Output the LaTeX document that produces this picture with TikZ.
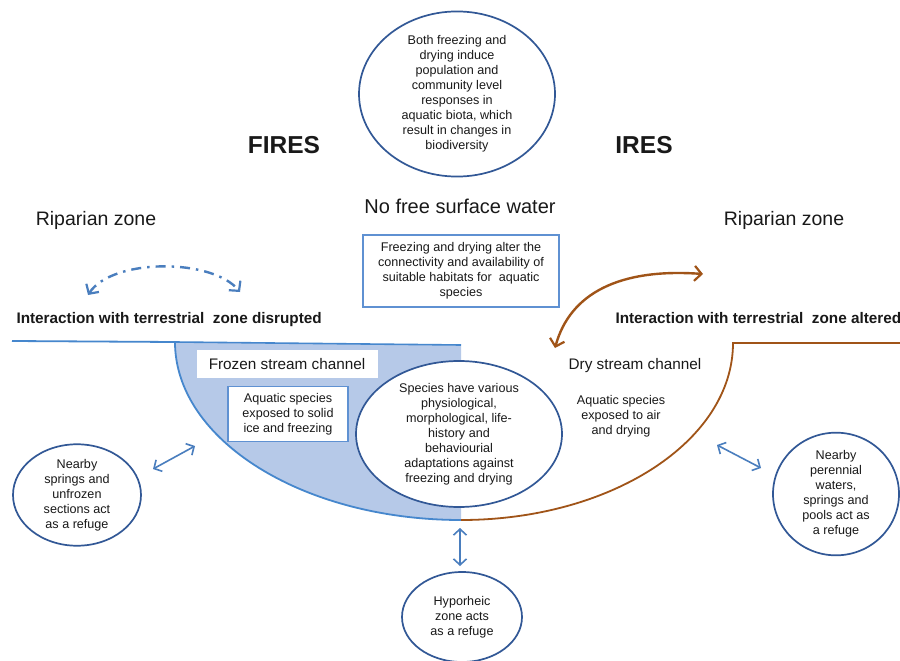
\documentclass[tikz,border=0pt]{standalone}
\usepackage{fontspec}
\setmainfont{Liberation Sans}
\usetikzlibrary{shapes.geometric,arrows.meta}
\definecolor{ellblue}{RGB}{50,88,150}
\definecolor{lineblue}{RGB}{70,135,205}
\definecolor{boxblue}{RGB}{95,145,210}
\definecolor{arrblue}{RGB}{74,126,190}
\definecolor{icefill}{RGB}{182,201,232}
\definecolor{rust}{RGB}{160,84,24}
\definecolor{txt}{RGB}{25,25,25}
\tikzset{
  barb/.tip={Straight Barb[length=6pt,width=13pt,line width=1.6pt]},
  bigbarb/.tip={Straight Barb[length=7pt,width=15pt,line width=2.2pt]},
}
\begin{document}
\begin{tikzpicture}[x=1pt,y=-1pt,
  every node/.style={text=txt},
  small/.style={font=\fontsize{12.6}{15}\selectfont, align=center},
  ell/.style={ellipse, draw=ellblue, line width=1.7pt, fill=white, inner sep=0pt, small},
  bluebox/.style={rectangle, draw=boxblue, line width=1.5pt, fill=white, inner sep=0pt, small},
  head/.style={font=\bfseries\fontsize{24.5}{29}\selectfont, anchor=base},
  mid/.style={font=\fontsize{20}{24}\selectfont, anchor=base},
  inter/.style={font=\bfseries\fontsize{15.3}{18}\selectfont, anchor=base west},
  chan/.style={font=\fontsize{15.3}{18}\selectfont, anchor=base},
  dbl/.style={draw=arrblue, line width=1.6pt, barb-barb},
  ]
\clip (0,0) rectangle (900,661);
\fill[white] (0,0) rectangle (900,661);

% frozen channel
\fill[icefill] (175,342) -- (461,345) -- (461,520) .. controls (303,520) and (175,440) .. (175,342) -- cycle;
\draw[lineblue, line width=1.8pt] (12,341) -- (175,342) .. controls (175,440) and (303,520) .. (461,520);
\draw[lineblue, line width=1.6pt] (175,342) -- (461,345);
% dry channel
\draw[rust, line width=1.8pt] (461,520) .. controls (611,520) and (733,441) .. (733,343) -- (900,343);

% titles
\node[head] (fires) at (284,153) {FIRES};
\node[head] (ires) at (644,153) {IRES};
\node[mid] (nofree) at (460,213) {No free surface water};
\node[mid, font=\fontsize{19.5}{24}\selectfont] (ripl) at (96,225) {Riparian zone};
\node[mid, font=\fontsize{19.5}{24}\selectfont] (ripr) at (784,225) {Riparian zone};

% top ellipse
\node[ell, minimum width=196pt, minimum height=164pt] (top) at (457,94)
  {Both freezing and\\drying induce\\population and\\community level\\responses in\\aquatic biota, which\\result in changes in\\biodiversity};

% connectivity box
\node[bluebox, minimum width=196pt, minimum height=72pt] (conn) at (461,271)
  {Freezing and drying alter the\\connectivity and availability of\\suitable habitats for\ \ aquatic\\species};

% interaction texts
\node[inter] (intl) at (13,323) {Interaction with terrestrial\ \ zone disrupted};
\node[inter] (intr) at (612,323) {Interaction with terrestrial\ \ zone altered};

% arrows of interaction
\coordinate (da) at (88,295);
\coordinate (db) at (240,292);
\draw[arrblue, line width=2.4pt, dash pattern=on 10pt off 6pt on 2.5pt off 6pt, bigbarb-bigbarb]
  (da) .. controls (112,258) and (212,258) .. (db);
\coordinate (ba) at (555,348);
\coordinate (bb) at (703,274);
\draw[rust, line width=2.4pt, bigbarb-bigbarb]
  (ba) .. controls (570,293) and (620,268) .. (bb);

% frozen channel labels
\node[rectangle, fill=white, minimum width=181pt, minimum height=28pt, inner sep=0pt] (frbox) at (287,364) {};
\node[chan] (frozen) at (287,369) {Frozen stream channel};
\node[bluebox, minimum width=120pt, minimum height=55pt] (ice) at (288,414)
  {Aquatic species\\exposed to solid\\ice and freezing};

% dry channel labels
\node[chan] (dry) at (635,369) {Dry stream channel};
\node[small] (air) at (621,416) {Aquatic species\\exposed to air\\and drying};

% centre ellipse
\node[ell, minimum width=206pt, minimum height=146pt] (adapt) at (459,434)
  {Species have various\\physiological,\\morphological, life-\\history and\\behaviourial\\adaptations against\\freezing and drying};

% refuges
\node[ell, minimum width=128pt, minimum height=100pt] (left) at (77,495)
  {Nearby\\springs and\\unfrozen\\sections act\\as a refuge};
\node[ell, minimum width=126pt, minimum height=104pt] (right) at (836,494)
  {Nearby\\perennial\\waters,\\springs and\\pools act as\\a refuge};
\node[ell, minimum width=120pt, minimum height=90pt] (hypo) at (462,617)
  {Hyporheic\\zone acts\\as a refuge};

\coordinate (la) at (153,469);
\coordinate (lb) at (195,446);
\draw[dbl] (la) -- (lb);
\coordinate (ra) at (717,445);
\coordinate (rb) at (761,468);
\draw[dbl] (ra) -- (rb);
\coordinate (va) at (460,528);
\coordinate (vb) at (460,566);
\draw[dbl] (va) -- (vb);
\end{tikzpicture}
\end{document}
